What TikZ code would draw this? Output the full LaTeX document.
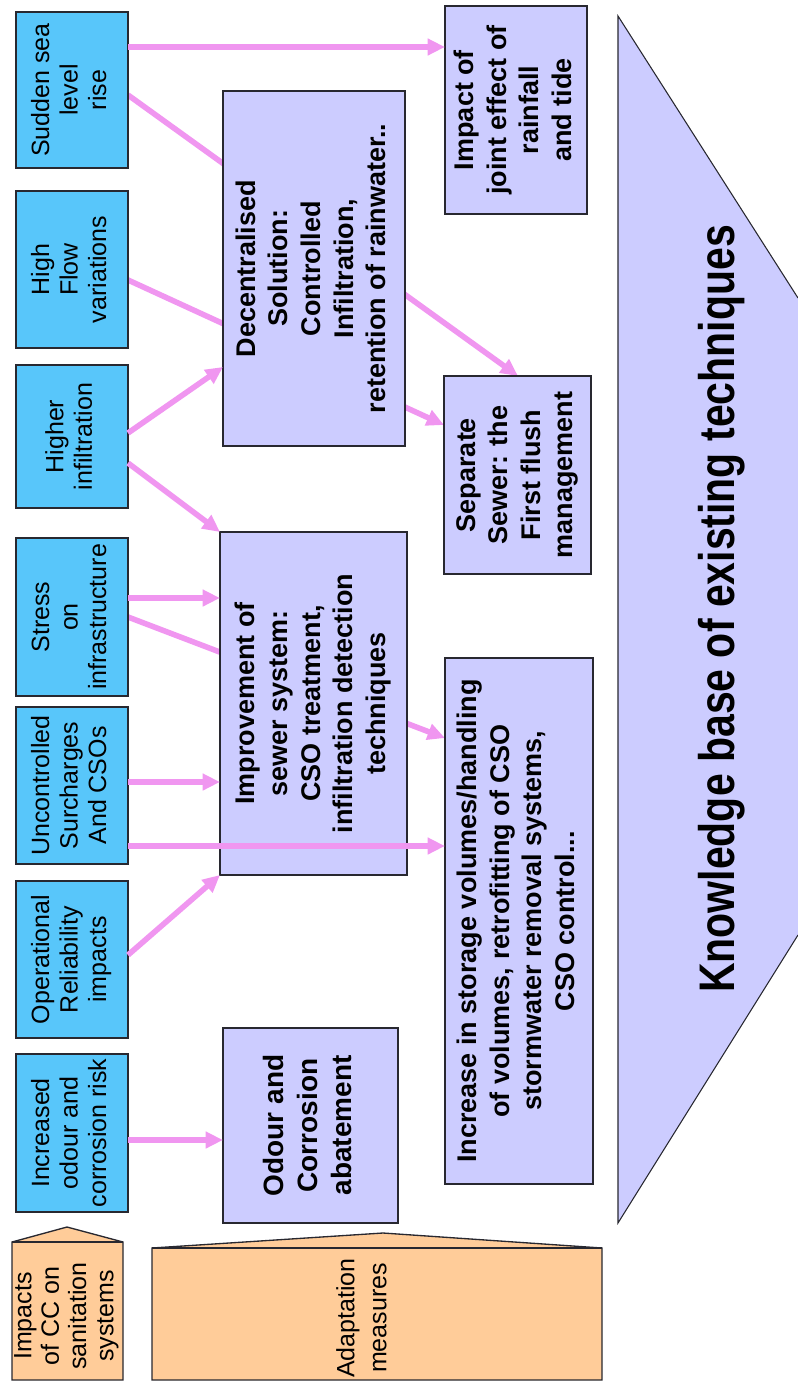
\documentclass[tikz,border=0pt]{standalone}
\usepackage{fontspec}
\setmainfont{Liberation Sans}
\usetikzlibrary{arrows.meta,calc}

\definecolor{impactblue}{RGB}{88,198,250}
\definecolor{measurepurple}{RGB}{204,204,255}
\definecolor{peach}{RGB}{255,204,153}
\definecolor{linkpink}{RGB}{240,150,240}
\definecolor{edgegray}{RGB}{40,40,48}

% text turned to read from bottom to top
\newcommand\vtext[1]{\rotatebox{90}{\begin{tabular}{@{}c@{}}#1\end{tabular}}}

\pgfdeclarelayer{behind}
\pgfsetlayers{behind,main}

\begin{document}
\begin{tikzpicture}[x=0.75pt,y=-0.75pt,
  frame/.style n args={2}{draw=edgegray,line width=1.2pt,inner sep=0pt,outer sep=0pt,
    minimum width=#1*0.75pt,minimum height=#2*0.75pt},
  impact/.style={fill=impactblue,font=\fontsize{18.75}{21.4}\selectfont},
  measure/.style={fill=measurepurple,font=\fontsize{20.25}{24.4}\selectfont\bfseries},
  tab/.style={draw=edgegray,line width=1pt,fill=peach},
  link/.style={draw=linkpink,line width=4.2pt,-{Triangle[length=13pt,width=12pt]}},
]
\useasboundingbox (0,0) rectangle (798,1382);

% knowledge base banner
\fill[measurepurple] (618,16) -- (798,298) -- (798,935) -- (618,1223) -- cycle;
\draw[edgegray,line width=0.8pt] (798,298) -- (618,16) -- (618,1223) -- (798,935);
\node[font=\fontsize{37.5}{40}\selectfont\bfseries] (kb) at (722,609)
  {\rotatebox{90}{\scalebox{0.82}[1]{Knowledge base of existing techniques}}};

% impacts of climate change
\node[frame={112}{156},impact] (sud)  at (72,90)    {\vtext{Sudden sea\\level\\rise}};
\node[frame={112}{157},impact] (flow) at (72,269.5) {\vtext{High\\Flow\\variations}};
\node[frame={112}{143},impact] (inf)  at (72,436.5) {\vtext{Higher\\infiltration}};
\node[frame={112}{158},impact] (str)  at (72,617)   {\vtext{Stress\\on\\infrastructure}};
\node[frame={112}{157},impact] (unc)  at (72,785.5) {\vtext{Uncontrolled\\Surcharges\\And CSOs}};
\node[frame={112}{157},impact] (ope)  at (72,959.5) {\vtext{Operational\\Reliability\\impacts}};
\node[frame={112}{158},impact] (odr)  at (72,1133)  {\vtext{Increased\\odour and\\corrosion risk}};

% adaptation measures
\node[frame={182}{355},measure] (dec) at (314,268.5)
  {\vtext{Decentralised\\Solution:\\Controlled\\Infiltration,\\retention of rainwater..}};
\node[frame={187}{343},measure] (imp) at (313.5,703.5)
  {\vtext{Improvement of\\sewer system:\\CSO treatment,\\infiltration detection\\techniques}};
\node[frame={175}{195},measure,font=\fontsize{21}{25.5}\selectfont\bfseries] (oab) at (310.5,1125.5)
  {\vtext{Odour and\\Corrosion\\abatement}};
\node[frame={142}{208},measure] (jnt) at (516,110)
  {\vtext{Impact of\\joint effect of\\rainfall\\and tide}};
\node[frame={147}{198},measure] (sep) at (517.5,475)
  {\vtext{Separate\\Sewer: the\\First flush\\management}};
\node[frame={148}{526},measure] (inc) at (519,921)
  {\vtext{Increase in storage volumes/handling\\of volumes, retrofitting of CSO\\stormwater removal systems,\\CSO control...}};

% row labels
\draw[tab] (12,1380) -- (12,1242) -- (67,1227) -- (123,1242) -- (123,1380) -- cycle;
\draw[edgegray,line width=1pt] (12,1242) -- (123,1242);
\node[font=\fontsize{18.75}{20.5}\selectfont] (cc) at (67,1316)
  {\vtext{Impacts\\of CC on\\sanitation\\systems}};
\draw[tab] (152,1380) -- (152,1248) -- (383,1233) -- (602,1248) -- (602,1380) -- cycle;
\draw[edgegray,line width=1pt] (152,1248) -- (602,1248);
\node[font=\fontsize{18.75}{24}\selectfont] (am) at (364,1318)
  {\vtext{Adaptation\\measures}};

% links passing behind the boxes
\begin{pgfonlayer}{behind}
\draw[link] (sud.east |- 0,95) -- (sep.north -| 518,0);
\draw[link] (flow.east |- 0,280) -- (sep.west |- 0,425);
\draw[link] (str.east |- 0,617) -- (inc.west |- 0,738);
\end{pgfonlayer}

% links drawn on top
\draw[link] (sud.east |- 0,47) -- (jnt.west |- 0,47);
\draw[link] (inf.east |- 0,433) -- (dec.west |- 0,367);
\draw[link] (inf.east |- 0,463) -- (imp.north west);
\draw[link] (str.east |- 0,598) -- (imp.west |- 0,598);
\draw[link] (unc.east |- 0,782) -- (imp.west |- 0,782);
\draw[link] (unc.east |- 0,846) -- (inc.west |- 0,846);
\draw[link] (ope.east |- 0,955) -- (imp.south west);
\draw[link] (odr.east |- 0,1140) -- (oab.west |- 0,1140);
\end{tikzpicture}
\end{document}
